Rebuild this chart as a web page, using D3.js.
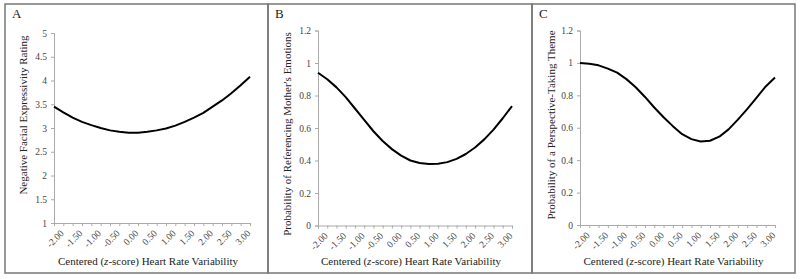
<!DOCTYPE html>
<html>
<head>
<meta charset="utf-8">
<script src="https://cdn.jsdelivr.net/npm/d3@7"></script>
<style>
  body { margin: 0; background: #fff; }
  svg { display: block; font-family: "Liberation Serif", "Times New Roman", serif; }
</style>
</head>
<body>
<div id="chart"></div>
<script>
  // Centered HRV categories (every other one is labelled on the axis)
  const hrvCategories = ['-2.00', '-1.75', '-1.50', '-1.25', '-1.00', '-0.75', '-0.50', '-0.25',
    '0.00', '0.25', '0.50', '0.75', '1.00', '1.25', '1.50', '1.75', '2.00', '2.25', '2.50', '2.75',
    '3.00', '3.25'];
  const shownCategories = ['-2.00', '-1.50', '-1.00', '-0.50', '0.00', '0.50', '1.00', '1.50',
    '2.00', '2.50', '3.00'];

  const facialExpressivity = [3.45, 3.33, 3.22, 3.13, 3.06, 3.00, 2.95, 2.92, 2.90, 2.90, 2.92,
    2.95, 2.99, 3.05, 3.13, 3.22, 3.32, 3.45, 3.58, 3.73, 3.90, 4.08];
  const referencingEmotions = [0.94, 0.90, 0.85, 0.79, 0.72, 0.65, 0.58, 0.52, 0.47, 0.43, 0.40,
    0.385, 0.378, 0.38, 0.39, 0.41, 0.44, 0.48, 0.53, 0.59, 0.66, 0.735];
  const perspectiveTaking = [1.00, 0.995, 0.985, 0.965, 0.94, 0.90, 0.85, 0.79, 0.725, 0.665, 0.61,
    0.56, 0.53, 0.515, 0.52, 0.545, 0.59, 0.65, 0.715, 0.785, 0.855, 0.91];

  const ticksA = [1, 1.5, 2, 2.5, 3, 3.5, 4, 4.5, 5];
  const ticksProb = [0, 0.2, 0.4, 0.6, 0.8, 1, 1.2];

  const panels = [
    { letter: 'A', values: facialExpressivity, yTicks: ticksA, yDomain: [1, 5],
      yTitle: 'Negative Facial Expressivity Rating', left: 5, right: 268,
      axisX: 54, axisEnd: 250, top: 33, bottom: 223, titleX: 23, titleY: 115 },
    { letter: 'B', values: referencingEmotions, yTicks: ticksProb, yDomain: [0, 1.2],
      yTitle: 'Probability of Referencing Mother\'s Emotions', left: 268, right: 532,
      axisX: 318, axisEnd: 512, top: 30.5, bottom: 225.5, titleX: 287, titleY: 134 },
    { letter: 'C', values: perspectiveTaking, yTicks: ticksProb, yDomain: [0, 1.2],
      yTitle: 'Probability of a Perspective-Taking Theme', left: 532, right: 795,
      axisX: 580, axisEnd: 775, top: 30.5, bottom: 225, titleX: 551, titleY: 125 }
  ];

  const width = 800;
  const height = 279;
  const svg = d3.select('#chart').append('svg')
    .attr('width', width)
    .attr('height', height);

  panels.forEach((p) => drawPanel(p));

  function drawPanel(p) {
    const g = svg.append('g');

    g.append('rect')
      .attr('x', p.left)
      .attr('y', 4)
      .attr('width', p.right - p.left)
      .attr('height', 269)
      .attr('fill', 'none')
      .attr('stroke', '#777')
      .attr('stroke-width', 1.5);

    g.append('text')
      .attr('x', p.left + 7)
      .attr('y', 18)
      .attr('font-size', 13)
      .attr('fill', '#222')
      .text(p.letter);

    const x = d3.scalePoint().domain(hrvCategories).range([p.axisX, p.axisEnd]);
    const y = d3.scaleLinear().domain(p.yDomain).range([p.bottom, p.top]);

    const yAxis = g.append('g')
      .attr('transform', `translate(${p.axisX},0)`)
      .call(d3.axisLeft(y).tickValues(p.yTicks).tickSize(3).tickPadding(4)
        .tickFormat((v) => d3.format('')(+v.toFixed(1))));
    yAxis.selectAll('text').attr('font-size', 9.5).attr('fill', '#444')
      .attr('font-family', '"Liberation Serif", serif');

    const xAxis = g.append('g')
      .attr('transform', `translate(0,${p.bottom})`)
      .call(d3.axisBottom(x).tickSize(3).tickPadding(2)
        .tickFormat((d) => (shownCategories.includes(d) ? d : '')));
    xAxis.selectAll('text')
      .attr('font-size', 9.5)
      .attr('fill', '#444')
      .attr('font-family', '"Liberation Serif", serif')
      .attr('text-anchor', 'end')
      .attr('transform', 'translate(3,4) rotate(-45)')
      .attr('dy', '0.5em');

    [yAxis, xAxis].forEach((ax) => {
      ax.select('.domain').attr('stroke', '#aaa');
      ax.selectAll('.tick line').attr('stroke', '#aaa');
    });

    const line = d3.line()
      .x((_, i) => x(hrvCategories[i]))
      .y((d) => y(d));

    g.append('path')
      .datum(p.values)
      .attr('fill', 'none')
      .attr('stroke', '#000')
      .attr('stroke-width', 2)
      .attr('stroke-linejoin', 'round')
      .attr('d', line);

    g.append('text')
      .attr('transform', `translate(${p.titleX},${p.titleY}) rotate(-90)`)
      .attr('text-anchor', 'middle')
      .attr('dy', '0.35em')
      .attr('font-size', 11)
      .attr('fill', '#222')
      .text(p.yTitle);

    const xt = g.append('text')
      .attr('x', (p.axisX + p.axisEnd) / 2 - 4)
      .attr('y', 261)
      .attr('dy', '0.35em')
      .attr('text-anchor', 'middle')
      .attr('font-size', 11)
      .attr('fill', '#222');
    xt.append('tspan').text('Centered (');
    xt.append('tspan').attr('font-style', 'italic').text('z');
    xt.append('tspan').text('-score) Heart Rate Variability');
  }
</script>
</body>
</html>
